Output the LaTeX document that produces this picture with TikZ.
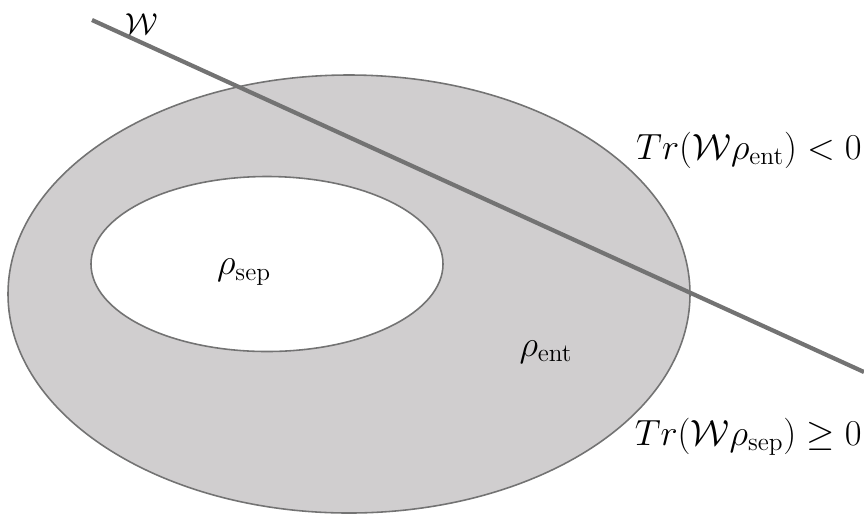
\documentclass[tikz,border=0pt]{standalone}
\usetikzlibrary{shapes.geometric}
\begin{document}
\begin{tikzpicture}[x=0.02cm,y=-0.02cm,
  region/.style={ellipse, draw=black!55, line width=0.9pt, inner sep=0pt},
  label/.style={inner sep=0pt, font=\fontsize{20}{24}\selectfont},
  witness/.style={draw=black!55, line width=2.4pt}]
  \useasboundingbox (0,0) rectangle (864,515);
  % set of all states (entangled region) and separable subset
  \node[region, fill={rgb,255:red,208;green,206;blue,207},
        minimum width=682*0.02cm, minimum height=438*0.02cm] (ent) at (349,294) {};
  \node[region, fill=white,
        minimum width=352*0.02cm, minimum height=175*0.02cm] (sep) at (267,264) {};
  % witness hyperplane
  \coordinate (w1) at (92,20);
  \coordinate (w2) at (864,372);
  \draw[witness] (w1) -- (w2);
  % labels
  \node[label, font=\fontsize{18}{22}\selectfont] (wl) at (142,24) {$\mathcal{W}$};
  \node[label] (ls) at (244,272) {$\rho_{\mathrm{sep}}$};
  \node[label] (le) at (546,352) {$\rho_{\mathrm{ent}}$};
  \node[label, anchor=east] (t1) at (862,150) {$Tr(\mathcal{W}\rho_{\mathrm{ent}}) < 0$};
  \node[label, anchor=east] (t2) at (862,437) {$Tr(\mathcal{W}\rho_{\mathrm{sep}}) \geq 0$};
\end{tikzpicture}
\end{document}
